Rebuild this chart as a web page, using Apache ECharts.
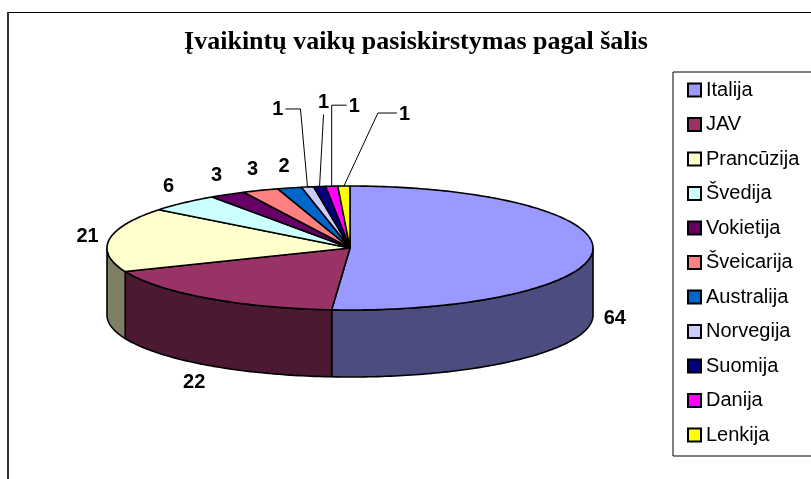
<!DOCTYPE html>
<html>
<head>
<meta charset="utf-8">
<title>Įvaikintų vaikų pasiskirstymas pagal šalis</title>
<script src="https://cdn.jsdelivr.net/npm/echarts@6/dist/echarts.min.js"></script>
<style>
  html, body { margin: 0; padding: 0; background: #fff; }
  #main { width: 811px; height: 479px; }
</style>
</head>
<body>
<div id="main"></div>
<script>
var chartTitle = "Įvaikintų vaikų pasiskirstymas pagal šalis";
var countries = ["Italija", "JAV", "Prancūzija", "Švedija", "Vokietija", "Šveicarija",
  "Australija", "Norvegija", "Suomija", "Danija", "Lenkija"];
var counts = [64, 22, 21, 6, 3, 3, 2, 1, 1, 1, 1];
var sliceColors = ["#9999FF", "#993366", "#FFFFCC", "#CCFFFF", "#660066", "#FF8080",
  "#0066CC", "#CCCCFF", "#000080", "#FF00FF", "#FFFF00"];

// ellipse of the 3d pie (excel style)
var pieCx = 350, pieCy = 248, pieRx = 243, pieRy = 62, pieDepth = 67;
var labelGap = 22;

// leader lines for the thin slices, offsets from the rim point
var leaders = {
  7: { bend: [-7, -78], end: -22, align: "right" },
  8: { bend: [4, -72], end: 4, align: "center" },
  9: { bend: [0, -81], end: 15, align: "left" },
  10: { bend: [34, -73], end: 53, align: "left" }
};

var total = counts.reduce(function (a, b) { return a + b; }, 0);
var startAngles = [];
var acc = 0;
counts.forEach(function (v) {
  startAngles.push(acc / total * 360);
  acc += v;
});

function darker(hex) {
  var n = parseInt(hex.slice(1), 16);
  var r = (n >> 16) >> 1, g = ((n >> 8) & 255) >> 1, b = (n & 255) >> 1;
  return "rgb(" + r + "," + g + "," + b + ")";
}

function rim(deg, dy, gap) {
  var a = deg * Math.PI / 180;
  gap = gap || 0;
  return [pieCx + (pieRx + gap) * Math.sin(a), pieCy - (pieRy + gap) * Math.cos(a) + (dy || 0)];
}

function arc(a0, a1, dy) {
  var pts = [];
  var steps = Math.max(2, Math.ceil(a1 - a0));
  for (var k = 0; k <= steps; k++) {
    pts.push(rim(a0 + (a1 - a0) * k / steps, dy));
  }
  return pts;
}

function renderSlice(params, api) {
  var i = params.seriesIndex;
  var val = api.value(0);
  var a0 = startAngles[i];
  var a1 = a0 + val / total * 360;
  var mid = (a0 + a1) / 2;
  var children = [];

  // front wall, only where it faces the viewer
  var s = Math.max(a0, 90), e = Math.min(a1, 270);
  if (e > s) {
    var wall = arc(s, e, 0).concat(arc(s, e, pieDepth).reverse());
    children.push({
      type: "polygon",
      shape: { points: wall },
      style: { fill: darker(sliceColors[i]), stroke: "#000", lineWidth: 1.6, lineJoin: "round" }
    });
  }

  // top face
  children.push({
    type: "polygon",
    shape: { points: [[pieCx, pieCy]].concat(arc(a0, a1, 0)) },
    style: { fill: sliceColors[i], stroke: "#000", lineWidth: 1.6, lineJoin: "round" }
  });

  var lbl = { text: String(val), fill: "#000", font: "bold 20px 'Liberation Sans', Arial, sans-serif" };
  var ld = leaders[i];
  if (ld) {
    var p = rim(mid, 0);
    var b = [p[0] + ld.bend[0], p[1] + ld.bend[1]];
    var t = [p[0] + ld.end, b[1]];
    children.push({
      type: "polyline",
      shape: { points: [p, b, t] },
      style: { stroke: "#000", lineWidth: 1, fill: null }
    });
    if (ld.align === "center") {
      lbl.x = t[0]; lbl.y = t[1] - 2; lbl.align = "center"; lbl.verticalAlign = "bottom";
    } else {
      lbl.x = t[0] + (ld.align === "left" ? 2 : -2);
      lbl.y = t[1] + 1;
      lbl.align = ld.align;
      lbl.verticalAlign = "middle";
    }
  } else {
    var c = Math.cos(mid * Math.PI / 180);
    var q = rim(mid, c < 0 ? pieDepth : 0, labelGap);
    lbl.x = q[0]; lbl.y = q[1]; lbl.align = "center"; lbl.verticalAlign = "middle";
  }
  children.push({ type: "text", style: lbl, z2: 10 });

  return { type: "group", children: children };
}

var chartDom = document.getElementById("main");
var myChart = echarts.init(chartDom);

var series = countries.map(function (name, i) {
  return {
    name: name,
    type: "custom",
    coordinateSystem: "none",
    renderItem: renderSlice,
    itemStyle: { color: sliceColors[i] },
    data: [[counts[i]]]
  };
});

var option = {
  backgroundColor: "#fff",
  animation: false,
  title: {
    text: chartTitle,
    left: 411,
    top: 24,
    textAlign: "center",
    textStyle: {
      fontFamily: "'Liberation Serif', 'Times New Roman', serif",
      fontWeight: "bold",
      fontSize: 26,
      color: "#000"
    }
  },
  legend: {
    orient: "vertical",
    left: 673,
    top: 72,
    padding: [8, 40, 11, 14],
    borderColor: "#000",
    borderWidth: 1,
    icon: "rect",
    itemWidth: 13,
    itemHeight: 13,
    itemGap: 14.5,
    itemStyle: { borderColor: "#000", borderWidth: 2 },
    textStyle: {
      fontFamily: "'Liberation Sans', Arial, sans-serif",
      fontSize: 20,
      lineHeight: 20,
      color: "#000"
    },
    data: countries
  },
  graphic: [
    {
      type: "rect",
      shape: { x: 8, y: 12.5, width: 900, height: 600 },
      style: { fill: null, stroke: "#000", lineWidth: 1 },
      silent: true
    },
    {
      type: "line",
      shape: { x1: 8, y1: 12, x2: 8, y2: 479 },
      style: { stroke: "#333", lineWidth: 2 },
      silent: true
    }
  ],
  series: series
};

option && myChart.setOption(option);
</script>
</body>
</html>
